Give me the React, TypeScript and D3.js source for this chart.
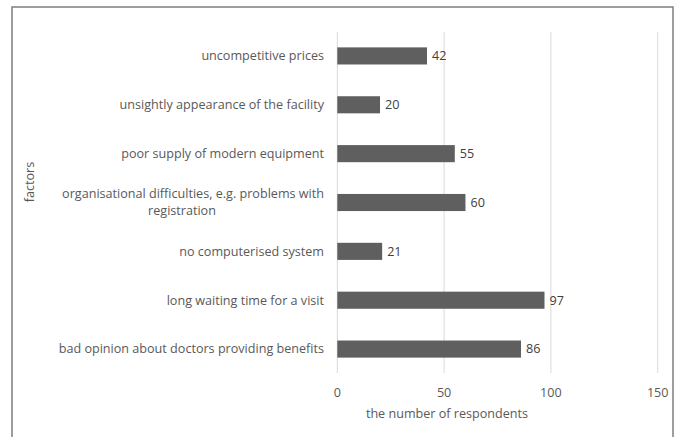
import React from "react";
import * as d3 from "d3";

const categories: string[][] = [
  ["uncompetitive prices"],
  ["unsightly appearance of the facility"],
  ["poor supply of modern equipment"],
  ["organisational difficulties, e.g. problems with", "registration"],
  ["no computerised system"],
  ["long waiting time for a visit"],
  ["bad opinion about doctors providing benefits"],
];
const values: number[] = [42, 20, 55, 60, 21, 97, 86];
const xTicks: number[] = [0, 50, 100, 150];
const xTitle = "the number of respondents";
const yTitle = "factors";

const W = 678;
const H = 437;
const FONT = "'Open Sans', sans-serif";
const TEXT = "#595959";
const FS = 12.6;

export default function App() {
  const x = d3.scaleLinear().domain([0, 150]).range([337.3, 657.7]);
  const y = d3
    .scaleBand<number>()
    .domain(d3.range(categories.length))
    .range([31.5, 373.5])
    .paddingInner(0.65)
    .paddingOuter(0.325);
  const bw = y.bandwidth();

  return (
    <svg
      width={W}
      height={H}
      style={{ position: "absolute", left: 0, top: 0, display: "block" }}
      fontFamily={FONT}
    >
      <rect x={0} y={0} width={W} height={H} fill="#fff" />
      <path d="M12,440 V7 H673 V440" fill="none" stroke="#7f7f7f" strokeWidth={1.5} />
      {xTicks.map((t) => (
        <line
          key={t}
          x1={x(t)}
          x2={x(t)}
          y1={32}
          y2={373}
          stroke="#d9d9d9"
          strokeWidth={1}
        />
      ))}
      {values.map((v, i) => (
        <g key={i}>
          <rect
            x={x(0)}
            y={y(i)!}
            width={x(v) - x(0)}
            height={bw}
            fill="#5f5f5f"
          />
          <text
            x={x(v) + 5}
            y={y(i)! + bw / 2}
            dy="0.35em"
            fontSize={FS}
            fill="#404040"
          >
            {v}
          </text>
        </g>
      ))}
      {categories.map((lines, i) => {
        const cy = y(i)! + bw / 2;
        if (lines.length === 1) {
          return (
            <text
              key={i}
              x={324}
              y={cy}
              dy="0.35em"
              textAnchor="end"
              fontSize={FS}
              fill={TEXT}
            >
              {lines[0]}
            </text>
          );
        }
        return (
          <g key={i}>
            <text x={324} y={cy - 8.5} dy="0.35em" textAnchor="end" fontSize={FS} fill={TEXT}>
              {lines[0]}
            </text>
            <text x={182} y={cy + 8.5} dy="0.35em" textAnchor="middle" fontSize={FS} fill={TEXT}>
              {lines[1]}
            </text>
          </g>
        );
      })}
      {xTicks.map((t) => (
        <text
          key={t}
          x={x(t)}
          y={397}
          textAnchor="middle"
          fontSize={FS}
          fill={TEXT}
        >
          {t}
        </text>
      ))}
      <text x={447} y={418} textAnchor="middle" fontSize={FS} fill={TEXT}>
        {xTitle}
      </text>
      <text
        transform="translate(34,182) rotate(-90)"
        textAnchor="middle"
        fontSize={FS}
        fill={TEXT}
      >
        {yTitle}
      </text>
    </svg>
  );
}
